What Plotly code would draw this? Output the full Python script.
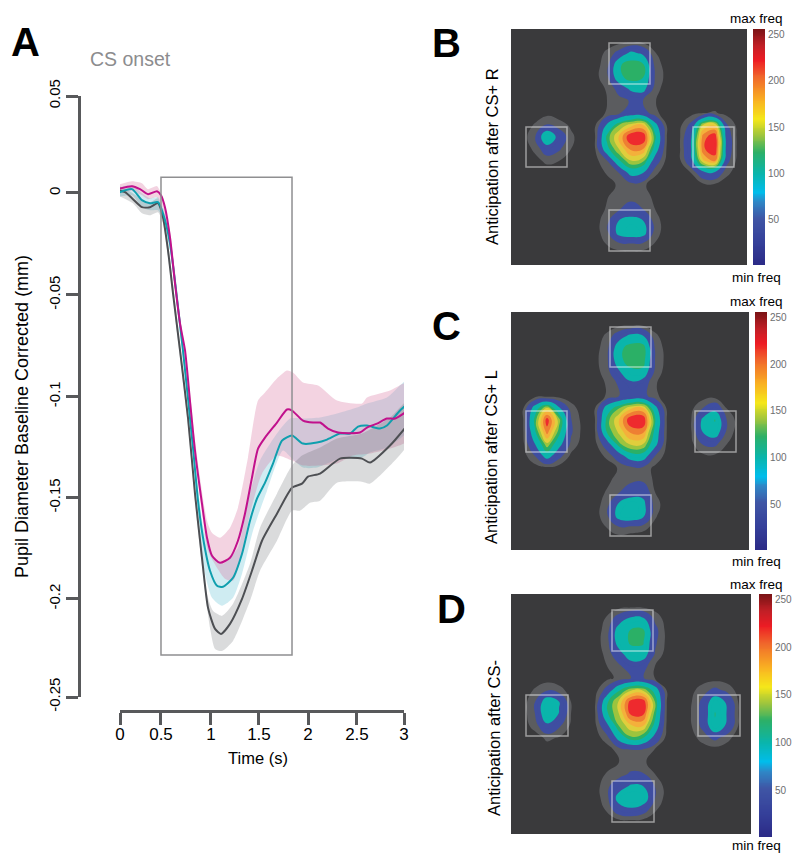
import plotly.graph_objects as go

W, H = 800, 864

# ---------- Panel A: pupil traces (time s, diameter mm) ----------
mag_t = [-.03,.127,.211,.296,.391,.433,.475,.528,.581,.634,.687,.739,.792,.866,.919,.972,1.056,1.162,1.246,1.320,1.394,1.458,1.532,1.658,1.764,1.817,1.933,2.039,2.113,2.197,2.303,2.535,2.609,2.715,2.820,2.905,3.042]
mag_y = [.0035,.005,.0035,.001,.0025,.0005,-.0055,-.0205,-.0435,-.0635,-.077,-.102,-.127,-.1535,-.1705,-.1795,-.183,-.1805,-.172,-.1585,-.1405,-.126,-.1205,-.113,-.1065,-.107,-.112,-.113,-.113,-.116,-.118,-.118,-.1155,-.1135,-.111,-.111,-.107]
mag_up_t = [-.03,.127,.232,.296,.391,.433,.528,.634,.739,.792,.919,.972,1.056,1.162,1.246,1.352,1.458,1.532,1.658,1.764,1.827,1.933,2.092,2.292,2.556,2.609,2.852,3.042]
mag_up_y = [.0055,.0075,.0065,.0035,.005,.0015,-.0175,-.06,-.098,-.122,-.162,-.168,-.1705,-.1655,-.1555,-.1305,-.102,-.098,-.091,-.087,-.088,-.093,-.0945,-.102,-.1035,-.1005,-.097,-.093]
mag_lo_t = [-.03,.127,.232,.296,.391,.433,.528,.634,.739,.824,.930,1.025,1.109,1.194,1.289,1.373,1.5,1.658,1.817,1.933,2.113,2.292,2.461,2.641,2.852,3.042]
mag_lo_y = [.0015,.0025,.0005,-.0015,-.0005,-.0035,-.0235,-.067,-.106,-.142,-.177,-.1855,-.191,-.192,-.1785,-.1585,-.1385,-.1295,-.132,-.1345,-.1345,-.1335,-.1295,-.1285,-.126,-.122]

teal_t = [-.03,.127,.232,.317,.401,.454,.528,.665,.771,.824,.877,.951,1.025,1.088,1.194,1.289,1.373,1.447,1.532,1.616,1.711,1.817,1.933,2.081,2.187,2.324,2.429,2.514,2.609,2.746,2.820,2.958,3.042]
teal_y = [.0015,.0035,-.002,-.0035,-.003,-.0085,-.0235,-.077,-.1255,-.152,-.1705,-.187,-.1945,-.195,-.1905,-.1785,-.162,-.151,-.143,-.1335,-.122,-.1195,-.1235,-.123,-.1215,-.1185,-.1185,-.115,-.1145,-.116,-.1145,-.107,-.1035]
teal_up_t = [-.03,.127,.232,.317,.401,.454,.528,.665,.771,.877,.982,1.088,1.246,1.352,1.479,1.658,1.796,1.933,2.113,2.292,2.503,2.609,2.820,3.042]
teal_up_y = [.004,.0055,.0015,-.001,-.0005,-.006,-.0205,-.0735,-.122,-.1645,-.1805,-.1835,-.1755,-.152,-.132,-.1185,-.111,-.111,-.1105,-.1085,-.1055,-.1035,-.1005,-.0915]
teal_lo_t = [-.03,.127,.232,.317,.401,.454,.528,.665,.771,.877,.972,1.077,1.194,1.289,1.405,1.553,1.721,1.817,1.933,2.081,2.187,2.324,2.535,2.641,2.820,3.042]
teal_lo_y = [-.0005,.0005,-.0055,-.007,-.007,-.0115,-.027,-.081,-.1295,-.1835,-.2005,-.2045,-.2005,-.1885,-.167,-.147,-.127,-.131,-.1355,-.1355,-.1335,-.131,-.131,-.128,-.1255,-.117]

dark_t = [-.03,.053,.137,.232,.317,.401,.454,.507,.560,.634,.718,.792,.866,.930,1.004,1.067,1.162,1.289,1.394,1.5,1.658,1.817,1.923,1.986,2.113,2.324,2.556,2.641,2.852,3.042]
dark_y = [.003,.002,-.0015,-.0055,-.0055,-.0035,-.0105,-.027,-.0485,-.077,-.1105,-.1485,-.1805,-.2055,-.216,-.2185,-.2135,-.201,-.187,-.172,-.1585,-.1455,-.1435,-.14,-.1385,-.131,-.131,-.133,-.1245,-.114]
dark_up_t = [-.03,.137,.232,.317,.401,.444,.507,.634,.718,.813,.919,.982,1.077,1.194,1.373,1.479,1.658,1.817,1.923,2.113,2.292,2.556,2.852,3.042]
dark_up_y = [.0055,.0015,-.002,-.003,-.001,-.006,-.0235,-.0735,-.107,-.1545,-.1985,-.207,-.2095,-.2035,-.1835,-.1655,-.1485,-.1345,-.1295,-.1255,-.121,-.1185,-.1105,-.102]
dark_lo_t = [-.03,.137,.232,.317,.401,.454,.507,.634,.718,.813,.898,.951,1.004,1.077,1.194,1.373,1.479,1.658,1.817,1.901,2.007,2.113,2.292,2.556,2.641,2.852,3.042]
dark_lo_y = [.0005,-.0035,-.0085,-.0095,-.008,-.0135,-.0305,-.0805,-.1145,-.162,-.197,-.2155,-.226,-.227,-.222,-.202,-.187,-.172,-.157,-.157,-.153,-.152,-.143,-.1425,-.1435,-.1345,-.1235]

x_tick_vals = [0, .433, .961, 1.468, 1.986, 2.503, 3]
x_tick_text = ["0", "0.5", "1", "1.5", "2", "2.5", "3"]
y_tick_vals = [.05, .0016, -.0493, -.1, -.1505, -.201, -.25]
y_tick_text = ["0.05", "0", "-0.05", "-0.1", "-0.15", "-0.2", "-0.25"]

onset_t = [-.021, -.021]
onset_y = [.0605, -.2415]
window_t = [.433, 1.817]
window_y = [.0095, -.229]

# ---------- Panels B, C, D: gaze frequency read on a 12-unit grid ----------
grid = list(range(0, 241, 12))

freq_b = {
 24:{96:14,108:40,120:80,132:60,144:11},
 36:{84:2,96:20,108:105,120:128,132:118,144:22},
 48:{84:4,96:22,108:100,120:125,132:112,144:28,156:2},
 60:{96:12,108:40,120:78,132:85,144:18},
 72:{96:10,108:22,120:32,132:30,144:11},
 84:{36:3,96:12,108:26,120:48,132:45,144:15,180:2,192:9,204:12,216:3},
 96:{24:12,36:32,48:18,60:7,84:6,96:75,108:130,120:160,132:170,144:85,156:7,168:2,180:38,192:150,204:165,216:32},
 108:{24:28,36:110,48:55,60:14,84:9,96:118,108:172,120:232,132:232,144:118,156:9,168:4,180:65,192:200,204:228,216:48},
 120:{24:14,36:50,48:34,60:10,84:8,96:100,108:150,120:195,132:190,144:95,156:6,168:4,180:68,192:205,204:232,216:50},
 132:{24:4,36:14,48:10,84:2,96:28,108:105,120:148,132:135,144:50,156:2,168:2,180:55,192:165,204:190,216:38},
 144:{96:12,108:30,120:85,132:70,144:14,180:10,192:55,204:58,216:14},
 156:{108:14,120:18,132:14,192:3,204:4},
 168:{96:9,108:18,120:25,132:18,144:6},
 180:{96:12,108:28,120:38,132:30,144:10},
 192:{84:1,96:22,108:72,120:88,132:72,144:18},
 204:{96:22,108:84,120:96,132:88,144:18},
 216:{96:10,108:18,120:20,132:18,144:8},
}
freq_c = {
 24:{96:14,108:50,120:82,132:72,144:14},
 36:{84:3,96:20,108:100,120:125,132:128,144:28},
 48:{84:4,96:24,108:100,120:128,132:125,144:30,156:2},
 60:{84:2,96:20,108:65,120:100,132:100,144:24},
 72:{96:12,108:34,120:60,132:45,144:12},
 84:{96:12,108:30,120:38,132:40,144:15},
 96:{12:6,24:90,36:150,48:75,60:18,84:9,96:90,108:128,120:165,132:170,144:85,156:5,180:4,192:30,204:55,216:8},
 108:{12:8,24:120,36:222,48:140,60:32,72:2,84:10,96:120,108:170,120:230,132:232,144:115,156:8,180:8,192:80,204:112,216:28},
 120:{12:7,24:105,36:200,48:120,60:34,72:3,84:9,96:112,108:155,120:195,132:195,144:100,156:8,180:7,192:72,204:100,216:22},
 132:{12:4,24:70,36:145,48:85,60:24,84:3,96:50,108:125,120:155,132:150,144:85,156:4,180:4,192:32,204:36,216:10},
 144:{24:30,36:90,48:40,60:5,96:14,108:50,120:95,132:95,144:30,192:5,204:6},
 156:{36:3,108:12,120:22,132:24,144:4},
 168:{96:5,108:18,120:25,132:25,144:6},
 180:{96:12,108:28,120:45,132:55,144:10},
 192:{84:1,96:20,108:75,120:100,132:82,144:18},
 204:{96:25,108:88,120:100,132:78,144:12},
 216:{96:10,108:24,120:18,132:14,144:5},
}
freq_d = {
 24:{96:12,108:45,120:75,132:72,144:22},
 36:{96:18,108:92,120:112,132:115,144:40,156:2},
 48:{84:1,96:20,108:90,120:115,132:114,144:35,156:4},
 60:{96:15,108:55,120:96,132:96,144:28},
 72:{96:10,108:25,120:50,132:42,144:10},
 84:{96:4,108:15,120:30,132:32,144:9},
 96:{24:12,36:26,48:16,60:3,96:42,108:105,120:145,132:145,144:95,156:6,180:4,192:20,204:38,216:22,228:2},
 108:{24:30,36:98,48:72,60:10,84:7,96:105,108:155,120:222,132:228,144:130,156:8,180:8,192:38,204:100,216:64,228:6},
 120:{24:30,36:105,48:68,60:10,84:8,96:105,108:150,120:215,132:215,144:120,156:7,180:10,192:40,204:112,216:68,228:8},
 132:{24:18,36:60,48:34,60:6,84:4,96:60,108:130,120:165,132:170,144:98,156:5,180:8,192:38,204:105,216:62,228:6},
 144:{36:14,48:8,96:20,108:85,120:125,132:110,144:55,180:2,192:18,204:38,216:16},
 156:{108:18,120:28,132:24,144:8},
 168:{108:10,120:16,132:14},
 180:{96:12,108:20,120:34,132:32,144:10},
 192:{96:24,108:50,120:75,132:70,144:28},
 204:{96:22,108:88,120:105,132:100,144:30},
 216:{96:12,108:50,120:62,132:45,144:12},
}

# areas of interest: left, right, top, bottom of each box
aoi_b = [(15,56,98,138),(182,223,98,138),(98,139,14,55),(98,139,181,222)]
aoi_c = [(15,56,99,140),(184,225,99,140),(99,140,15,55),(99,140,183,224)]
aoi_d = [(15,57,101,142),(187,229,101,142),(101,142,16,57),(101,143,187,228)]

bar_values = list(range(1, 256))
bar_ticks = [50, 100, 150, 200, 250]
bar_stops = [(0,"#2b2a86"),(.1,"#35409a"),(.2,"#3f55a5"),(.27,"#2f86c6"),(.31,"#00bdec"),(.39,"#0ab5ab"),(.48,"#2cb067"),(.55,"#9cc43e"),(.62,"#f5e71a"),(.7,"#f9b122"),(.8,"#f0652b"),(.87,"#ed1c24"),(.93,"#c21f26"),(1,"#7b1416")]

band_stops = [(0,10,"#3a3a3c"),(10,30,"#5b5c5f"),(30,70,"#3f4ea1"),(70,110,"#0ab5ab"),(110,130,"#2bb066"),(130,150,"#9cc43e"),(150,170,"#e0ce3c"),(170,190,"#f4b03b"),(190,210,"#ee7f33"),(210,260,"#ee2a2e")]

def expand(table):
    return [[table.get(r, {}).get(c, 0) for c in grid] for r in grid]

scale = []
for lo, hi, col in band_stops:
    scale += [[lo/260, col], [hi/260, col]]

fig = go.Figure()

# ---- A traces
bands = [
    (teal_up_t, teal_up_y, teal_lo_t, teal_lo_y, "rgba(105,195,215,0.32)"),
    (mag_up_t, mag_up_y, mag_lo_t, mag_lo_y, "rgba(220,120,165,0.33)"),
    (dark_up_t, dark_up_y, dark_lo_t, dark_lo_y, "rgba(85,90,95,0.22)"),
]
for ut, uy, lt, ly, col in bands:
    fig.add_trace(go.Scatter(x=ut+lt[::-1], y=uy+ly[::-1], mode="lines", fill="toself", fillcolor=col,
                             line=dict(width=0, shape="spline", smoothing=0.6), hoverinfo="skip", showlegend=False, cliponaxis=False))
for tt, yy, col in [(dark_t, dark_y, "#4d4f53"), (teal_t, teal_y, "#0f9fae"), (mag_t, mag_y, "#c1118c")]:
    fig.add_trace(go.Scatter(x=tt, y=yy, mode="lines", line=dict(color=col, width=2, shape="spline", smoothing=0.6), showlegend=False, cliponaxis=False))
fig.add_trace(go.Scatter(x=onset_t, y=onset_y, mode="lines", line=dict(color="#a5a6a8", width=3), showlegend=False, cliponaxis=False))

layout = dict(
    width=W, height=H, margin=dict(l=0, r=0, t=0, b=0, autoexpand=False), paper_bgcolor="white", plot_bgcolor="white",
    font=dict(family="Liberation Sans", color="black"), showlegend=False,
    xaxis=dict(domain=[120/W, 404/W], range=[0, 3], anchor="free", position=1-711/H, showgrid=False, zeroline=False,
               showline=True, linecolor="#58595b", linewidth=3, ticks="outside", ticklen=12, tickwidth=3, tickcolor="#58595b",
               tickvals=x_tick_vals, ticktext=x_tick_text, tickfont=dict(size=17), ticklabelstandoff=-5),
    yaxis=dict(domain=[1-697/H, 1-96/H], range=[-.25, .05], anchor="free", position=79/W, showgrid=False, zeroline=False,
               showline=True, linecolor="#58595b", linewidth=3, ticks="outside", ticklen=12, tickwidth=3, tickcolor="#58595b",
               tickvals=y_tick_vals, ticktext=y_tick_text, tickangle=-90, tickfont=dict(size=15)),
)
shapes = [dict(type="rect", xref="x", yref="y", x0=window_t[0], x1=window_t[1], y0=window_y[0], y1=window_y[1],
               line=dict(color="#8f8f91", width=1.5), layer="above")]
annotations = []

def note(text, x, y, size, color="black", bold=False, angle=0, anchor="center"):
    annotations.append(dict(text=f"<b>{text}</b>" if bold else text, x=x/W, y=1-y/H, xref="paper", yref="paper",
                            showarrow=False, font=dict(size=size, color=color), textangle=angle,
                            xanchor=anchor, yanchor="middle"))

# ---- B, C, D
panels = [
    (freq_b, aoi_b, (511,747,29,265), (753,765), "Anticipation after CS+ R", 157, "B", (447,43), (19,277), 492),
    (freq_c, aoi_c, (511,749,312,550), (755,767), "Anticipation after CS+ L", 457, "C", (447,326), (301,561), 491),
    (freq_d, aoi_d, (511,754,594,837), (759,772), "Anticipation after CS-", 738, "D", (452,609), (584,845), 494),
]
n = 2
for table, aoi, (x0, x1, y0, y1), (bx0, bx1), title, ty, letter, lpos, (maxy, miny), tx in panels:
    xname, yname = f"xaxis{n}", f"yaxis{n}"
    fig.add_trace(go.Contour(x=grid, y=grid, z=expand(table), xaxis=f"x{n}", yaxis=f"y{n}", zmin=0, zmax=260, autocontour=False,
                             contours=dict(coloring="fill", start=10, end=250, size=20), line=dict(width=0, smoothing=1.3),
                             colorscale=scale, showscale=False, hoverinfo="skip"))
    layout[xname] = dict(domain=[x0/W, x1/W], range=[0, x1-x0], visible=False, anchor=f"y{n}")
    layout[yname] = dict(domain=[1-y1/H, 1-y0/H], range=[y1-y0, 0], visible=False, anchor=f"x{n}")
    for l, r, t, b in aoi:
        shapes.append(dict(type="rect", xref=f"x{n}", yref=f"y{n}", x0=l, x1=r, y0=t, y1=b,
                           line=dict(color="rgba(255,255,255,0.5)", width=1.5), layer="above"))
    m = n + 3
    fig.add_trace(go.Heatmap(x=[0], y=bar_values, z=[[v] for v in bar_values], xaxis=f"x{m}", yaxis=f"y{m}", zmin=1, zmax=255,
                             colorscale=[[p, c] for p, c in bar_stops], showscale=False, hoverinfo="skip"))
    layout[f"xaxis{m}"] = dict(domain=[bx0/W, bx1/W], visible=False, anchor=f"y{m}")
    layout[f"yaxis{m}"] = dict(domain=[1-y1/H, 1-y0/H], range=[1.5, 255.5], side="right", anchor=f"x{m}", showgrid=False, zeroline=False,
                               tickvals=bar_ticks, ticks="", showline=False, tickfont=dict(size=10, color="#6d6e70"), ticklabelstandoff=2)
    note(letter, lpos[0]-1, lpos[1], 40, bold=True)
    note(title, tx, ty, 16.5, angle=-90)
    note("max freq", 785, maxy, 13.5, anchor="right")
    note("min freq", 783, miny, 13.5, anchor="right")
    n += 1

note("A", 25, 42, 40, bold=True)
note("CS onset", 130, 59, 19.5, color="#8c8c8e")
note("Pupil Diameter Baseline Corrected (mm)", 22, 417, 18, angle=-90)
note("Time (s)", 258, 758, 16.5)

layout["shapes"] = shapes
layout["annotations"] = annotations
fig.update_layout(**layout)
fig.write_html("out.html", post_script="document.body.style.margin='0';", config={"displayModeBar": False})
